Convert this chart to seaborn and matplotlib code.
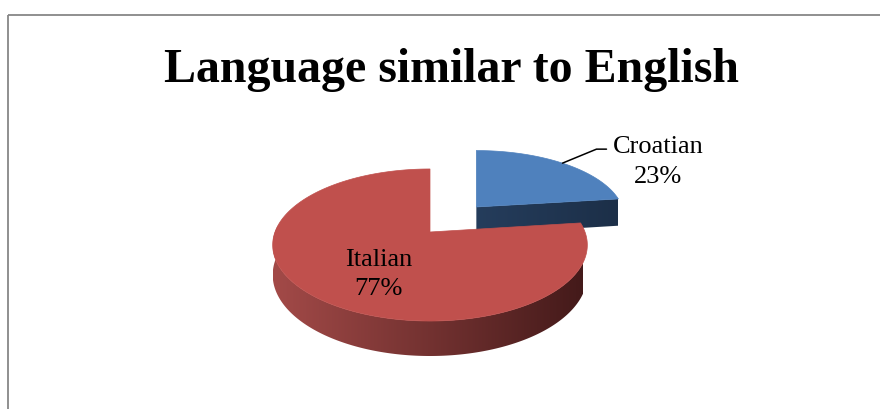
import numpy as np
import matplotlib
matplotlib.use("Agg")
import matplotlib.pyplot as plt
from matplotlib.patches import Polygon, Rectangle
from matplotlib.colors import to_rgb
import seaborn as sns

# ---- data ----
categories = ["Croatian", "Italian"]
values = [23, 77]
explode = [0.48, 0.0]
label_inside = [False, True]
title = "Language similar to English"

# ---- style ----
top_colors = ["#4F81BD", "#C0504D"]
side_light = ["#253D5C", "#A34A48"]
side_dark = ["#1C2F48", "#441A1A"]

sns.set_theme(style="white")
plt.rcParams["font.family"] = ["Liberation Serif", "DejaVu Serif"]

fig = plt.figure(figsize=(8.8, 4.1), dpi=100)
ax = fig.add_axes([0, 0, 1, 1])
ax.axis("off")

# chart border
ax.add_patch(Rectangle((8, 16), 1000, 600, fill=False, edgecolor="#878787", lw=1.3, zorder=0))

CX, CY, RX, RY, K, D = 428, 233, 155, 73.8, 0.171, 29


def proj(theta, r, z, off):
    th = np.radians(theta)
    X = r * np.sin(th)
    Y = r * np.cos(th) + off[1]
    s = 1.0 / (1.0 + K * Y)
    s0 = 1.0 / (1.0 + K * off[1])
    return (CX + RX * (off[0] * s0 + X * s) + 2, CY - RY * Y * s + D * z * s)


def gradient_fill(pts, c1, c2, x0, x1, z):
    pts = np.asarray(pts)
    ymin, ymax = pts[:, 1].min(), pts[:, 1].max()
    n = 256
    a, b = np.array(to_rgb(c1)), np.array(to_rgb(c2))
    grad = a[None, :] + (b - a)[None, :] * np.linspace(0, 1, n)[:, None]
    im = ax.imshow(grad[None, :, :], extent=(x0, x1, ymax + 1, ymin - 1), aspect="auto",
                   interpolation="bilinear", zorder=z)
    clip = Polygon(pts, closed=True, facecolor="none", edgecolor="none", transform=ax.transData)
    ax.add_patch(clip)
    im.set_clip_path(clip)


total = float(sum(values))
wedges = []
start = 0.0
for i, v in enumerate(values):
    t1, t2 = start, start + 360.0 * v / total
    start = t2
    mid = (t1 + t2) / 2
    off = (explode[i] * np.sin(np.radians(mid)), explode[i] * np.cos(np.radians(mid)))
    wedges.append((i, t1, t2, mid, off))

z = 1
for i, t1, t2, mid, off in sorted(wedges, key=lambda w: -w[4][1]):
    # outer side wall
    a, b = max(t1, 85.0), min(t2, 275.0)
    if a < b:
        ts = np.linspace(a, b, 300)
        top = [proj(t, 1, 0, off) for t in ts]
        bot = [proj(t, 1, 1, off) for t in ts[::-1]]
        gradient_fill(top + bot, side_light[i], side_dark[i], CX - RX, CX + RX, z)
        z += 1
    # radial faces that face the viewer
    for tt, vis in ((t2, np.sin(np.radians(t2)) > 1e-6), (t1, np.sin(np.radians(t1)) < -1e-6)):
        if vis:
            pts = [proj(tt, 0, 0, off), proj(tt, 1, 0, off), proj(tt, 1, 1, off), proj(tt, 0, 1, off)]
            xs = [p[0] for p in pts]
            gradient_fill(pts, side_light[i], side_dark[i], min(xs), max(xs), z)
            z += 1
    # top face
    ts = np.linspace(t1, t2, 400)
    pts = [proj(t, 1, 0, off) for t in ts] + [proj(0, 0, 0, off)]
    ax.add_patch(Polygon(pts, closed=True, facecolor=top_colors[i], edgecolor=top_colors[i],
                         lw=0.5, zorder=z))
    z += 1

# labels
for i, t1, t2, mid, off in wedges:
    txt = f"{categories[i]}\n{values[i]:.0f}%"
    if label_inside[i]:
        x, y = proj(mid, 0.5, 0, off)
        ax.text(x + 3, y + 12, txt, ha="center", va="center", multialignment="center",
                fontsize=19, linespacing=1.45, color="black", zorder=z)
    else:
        sx, sy = proj(mid, 1.0, 0, off)
        ex, ey = sx + 34, sy - 14
        fx = ex + 10
        ax.plot([sx, ex, fx], [sy, ey, ey], color="black", lw=1.1, zorder=z)
        ax.text(fx + 52, ey - 14, txt, ha="center", va="top", multialignment="center",
                fontsize=19, linespacing=1.45, color="black", zorder=z)

ax.text(451, 82, title, ha="center", va="baseline", fontsize=34.5, fontweight="bold",
        color="black", zorder=z)

ax.set_xlim(0, 880)
ax.set_ylim(410, 0)
fig.savefig("out.png", dpi=100)
